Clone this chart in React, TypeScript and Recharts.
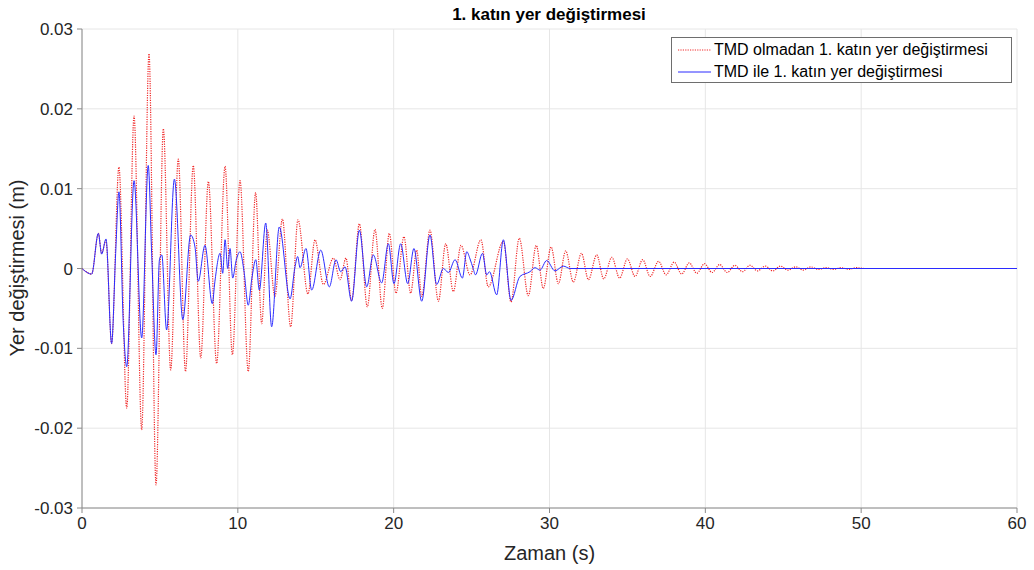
import { LineChart, Line, XAxis, YAxis, CartesianGrid } from "recharts";

// Zaman (s) ve yer değiştirme (m) değerleri
const redTime = [
  0, 0.62, 1.05, 1.26, 1.54, 1.9, 2.37, 2.87, 3.34, 3.83, 4.3, 4.75, 5.22, 5.69,
  6.18, 6.64, 7.14, 7.62, 8.11, 8.64, 9.18, 9.65, 10.14, 10.67, 11.14, 11.53,
  11.89, 12.38, 12.86, 13.39, 13.86, 14.5, 14.95, 15.49, 16.13, 16.56, 16.94,
  17.3, 17.8, 18.31, 18.8, 19.27, 19.72, 20.15, 20.66, 21.09, 21.48, 21.8,
  22.33, 22.87, 23.34, 23.83, 24.32, 24.9, 25.6, 26.07, 27.04, 27.53, 28.06,
  28.64, 29.15, 29.6, 30.1, 30.57, 31.04, 31.53, 32.05, 32.5, 33.03, 33.48, 34.0,
  34.5, 35.0, 35.49, 35.98, 36.46, 37.0, 37.48, 38.0, 38.48, 38.97, 39.45, 39.95,
  40.43, 40.92, 41.4, 41.9, 42.38, 42.87, 43.35, 43.85, 44.33, 44.82, 45.3, 45.8,
  46.28, 46.77, 47.25, 47.75, 48.23, 48.72, 49.2, 49.7, 50.2, 60,
];
const redValue = [
  0, -0.0007, 0.0044, 0.0019, 0.0035, -0.0094, 0.0127, -0.0175, 0.0191, -0.0202,
  0.0269, -0.0271, 0.0175, -0.0127, 0.0137, -0.0129, 0.0129, -0.0112, 0.0109,
  -0.0119, 0.0128, -0.0108, 0.011, -0.0129, 0.0095, -0.0069, 0.0048, -0.0035,
  0.0062, -0.0073, 0.0061, -0.0032, 0.0036, -0.002, 0.0013, -0.0014, 0.0013,
  -0.004, 0.0056, -0.0048, 0.0049, -0.005, 0.0044, -0.0031, 0.004, -0.0031,
  0.0023, -0.0035, 0.0048, -0.0041, 0.0031, -0.0029, 0.0029, -0.0008, 0.0036,
  -0.0023, 0.0034, -0.0042, 0.0038, -0.0034, 0.0029, -0.0025, 0.0027, -0.0019,
  0.0022, -0.0017, 0.0019, -0.0014, 0.0017, -0.0013, 0.0014, -0.0012, 0.0012,
  -0.001, 0.0011, -0.001, 0.0009, -0.0008, 0.0008, -0.0007, 0.0007, -0.0006,
  0.0006, -0.0005, 0.0005, -0.0005, 0.0004, -0.0004, 0.0004, -0.0003, 0.0003,
  -0.0003, 0.0003, -0.0002, 0.0002, -0.0002, 0.0002, -0.0001, 0.0001, -0.0001,
  0.0001, -0.0001, 0.0001, 0, 0,
];

const blueTime = [
  0, 0.62, 1.05, 1.26, 1.54, 1.9, 2.16, 2.37, 2.65, 2.87, 3.34, 3.83, 4.25, 4.47,
  4.75, 4.97, 5.12, 5.43, 5.93, 6.47, 6.97, 7.25, 7.46, 7.89, 8.36, 8.53, 8.86,
  9.03, 9.18, 9.35, 9.5, 9.67, 9.88, 10.14, 10.4, 10.67, 10.89, 11.15, 11.38,
  11.79, 12.17, 12.66, 13.35, 13.67, 13.84, 13.99, 14.37, 14.74, 15.32, 15.87,
  16.3, 16.6, 16.88, 17.3, 17.8, 18.27, 18.69, 19.23, 19.66, 20.02, 20.45, 20.9,
  21.3, 21.8, 22.33, 22.76, 23.19, 23.51, 23.94, 24.41, 24.69, 24.9, 25.1,
  25.25, 25.7, 25.97, 26.15, 26.61, 27.04, 27.53, 28.1, 28.75, 29.07, 29.39,
  29.82, 30.35, 30.89, 31.32, 60,
];
const blueValue = [
  0, -0.0007, 0.0044, 0.0018, 0.0037, -0.0094, 0.0019, 0.0096, -0.0069, -0.0123,
  0.011, -0.0087, 0.0129, 0.0019, -0.0108, 0.0011, 0.0017, -0.0077, 0.0112,
  -0.0064, 0.0042, 0.0027, -0.0016, 0.0029, -0.0044, -0.0016, 0.0019, -0.0006,
  0.0036, 0, 0.0025, -0.0012, 0.0009, 0.0021, -0.0004, -0.0046, -0.0014, 0.0011,
  -0.0027, 0.0057, -0.0073, 0.0052, -0.0038, 0.0002, 0.0015, 0.0001, 0.0025,
  -0.0027, 0.0023, -0.0023, 0.0011, -0.0004, 0.0002, -0.0041, 0.0048, -0.0023,
  0.0017, -0.0018, 0.0031, -0.0019, 0.0031, -0.0019, 0.0025, -0.0041, 0.0042,
  -0.002, 0, -0.0005, 0.0011, -0.0012, 0.0021, 0.0012, 0, -0.0008, 0.0019,
  -0.0008, -0.0004, -0.0033, 0.0036, -0.004, -0.001, -0.0004, 0.0001, -0.0002,
  0.001, -0.0003, 0.0003, 0, 0,
];

const xTicks = [0, 10, 20, 30, 40, 50, 60];
const yTicks = [-0.03, -0.02, -0.01, 0, 0.01, 0.02, 0.03];

const redLabel = "TMD olmadan 1. katın yer değiştirmesi";
const blueLabel = "TMD ile 1. katın yer değiştirmesi";

const redData = redTime.map((t, i) => ({ t, v: redValue[i] }));
const blueData = blueTime.map((t, i) => ({ t, v: blueValue[i] }));

const FONT = "'Liberation Sans', Arial, Helvetica, sans-serif";
const RED = "#f02828";
const BLUE = "#2b2bff";
const RED_DASH = "1.2 1.2";

export default function App() {
  const tickStyle = { fontSize: 17, fill: "#262626", fontFamily: FONT };

  return (
    <div
      style={{
        position: "absolute",
        left: 0,
        top: 0,
        width: 1034,
        height: 570,
        background: "#fff",
        fontFamily: FONT,
      }}
    >
      {/* başlık */}
      <div
        style={{
          position: "absolute",
          left: 349,
          width: 400,
          top: 5,
          textAlign: "center",
          fontSize: 17,
          fontWeight: "bold",
          lineHeight: "20px",
          color: "#000",
        }}
      >
        1. katın yer değiştirmesi
      </div>

      <LineChart
        width={1034}
        height={570}
        margin={{ top: 29, right: 17, bottom: 0, left: 0 }}
      >
        <CartesianGrid stroke="#e6e6e6" />
        <XAxis
          dataKey="t"
          type="number"
          domain={[0, 60]}
          ticks={xTicks}
          height={62}
          stroke="#8a8a8a"
          tickSize={5}
          tickMargin={4}
          tick={tickStyle}
          allowDuplicatedCategory={false}
          label={{
            value: "Zaman (s)",
            position: "insideBottom",
            offset: 10,
            style: { fontSize: 20, fill: "#262626", fontFamily: FONT },
          }}
        />
        <XAxis
          xAxisId="top"
          orientation="top"
          dataKey="t"
          type="number"
          domain={[0, 60]}
          ticks={xTicks}
          height={0}
          stroke="#8a8a8a"
          tick={false}
          allowDuplicatedCategory={false}
        />
        <YAxis
          type="number"
          domain={[-0.03, 0.03]}
          ticks={yTicks}
          width={82}
          stroke="#8a8a8a"
          tickSize={5}
          tickMargin={4}
          tick={tickStyle}
          label={{
            content: () => (
              <text
                x={24}
                y={268}
                transform="rotate(-90 24 268)"
                textAnchor="middle"
                fontSize={20}
                fill="#262626"
                fontFamily={FONT}
              >
                Yer değiştirmesi (m)
              </text>
            ),
          }}
        />
        <YAxis
          yAxisId="right"
          orientation="right"
          type="number"
          domain={[-0.03, 0.03]}
          ticks={yTicks}
          width={0}
          stroke="#8a8a8a"
          tick={false}
        />
        <Line
          data={redData}
          dataKey="v"
          type="monotone"
          stroke={RED}
          strokeWidth={1.2}
          strokeDasharray={RED_DASH}
          dot={false}
          isAnimationActive={false}
        />
        <Line
          data={blueData}
          dataKey="v"
          type="monotone"
          stroke={BLUE}
          strokeWidth={1}
          dot={false}
          isAnimationActive={false}
        />
      </LineChart>

      {/* lejant */}
      <div
        style={{
          position: "absolute",
          left: 671,
          top: 37,
          width: 339,
          height: 44,
          border: "1px solid #6e6e6e",
          background: "#fff",
          fontSize: 16,
          color: "#000",
        }}
      >
        {[
          { label: redLabel, color: RED, dash: RED_DASH },
          { label: blueLabel, color: BLUE, dash: undefined },
        ].map((item, i) => (
          <div
            key={i}
            style={{
              position: "absolute",
              left: 6,
              top: 2 + i * 22,
              height: 20,
              display: "flex",
              alignItems: "center",
              whiteSpace: "nowrap",
            }}
          >
            <svg width={36} height={20}>
              <line
                x1={0}
                y1={10}
                x2={33}
                y2={10}
                stroke={item.color}
                strokeWidth={1}
                strokeDasharray={item.dash}
              />
            </svg>
            <span>{item.label}</span>
          </div>
        ))}
      </div>
    </div>
  );
}
